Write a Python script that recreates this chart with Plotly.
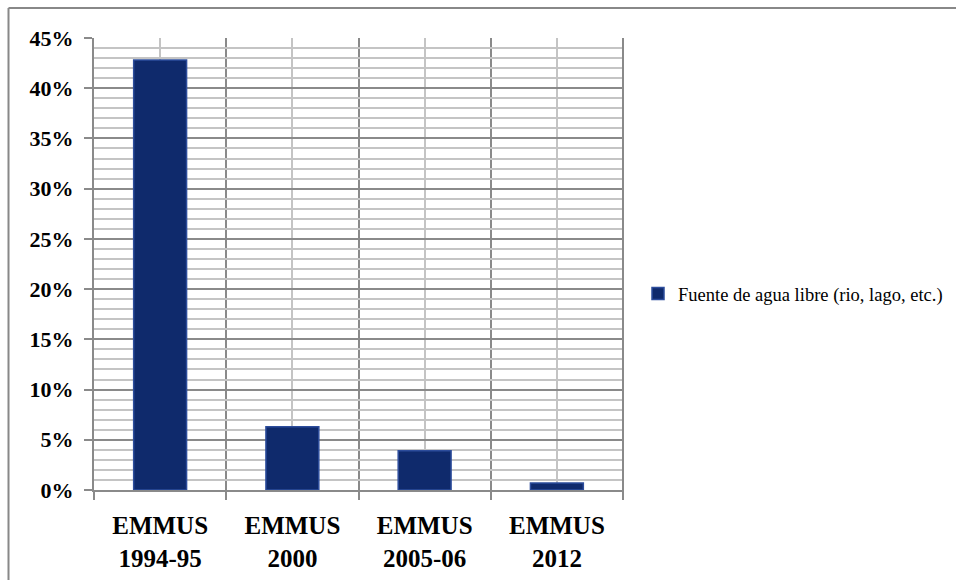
import plotly.graph_objects as go

# Survey rounds and share of households using open water sources
categories = ["EMMUS<br>1994-95", "EMMUS<br>2000", "EMMUS<br>2005-06", "EMMUS<br>2012"]
values = [42.8, 6.3, 3.9, 0.7]
series_name = "Fuente de agua libre (rio, lago, etc.)"

W, H = 956, 580
L, R, T, B = 94, 956 - 623, 38, 580 - 490
pw, ph = W - L - R, H - T - B

positions = list(range(len(categories)))

fig = go.Figure()
fig.add_trace(go.Bar(
    x=positions,
    y=values,
    name=series_name,
    width=0.4,
    marker=dict(color="#0f2a6c", line=dict(color="#2d4d9c", width=1.5)),
    showlegend=True,
))

serif = "Liberation Serif, Times New Roman, serif"

fig.update_layout(
    width=W, height=H,
    margin=dict(l=L, r=R, t=T, b=B, autoexpand=False),
    paper_bgcolor="white",
    plot_bgcolor="white",
    font=dict(family=serif, color="black"),
    showlegend=True,
    legend=dict(
        x=(638 - L) / pw, y=(490 - 294) / ph,
        xanchor="left", yanchor="middle",
        font=dict(family=serif, size=18.5, color="black"),
        bgcolor="rgba(0,0,0,0)",
        itemwidth=30,
    ),
    bargap=0.6,
)

fig.update_xaxes(
    range=[-0.5, len(categories) - 0.5],
    tickmode="array",
    tickvals=positions,
    ticktext=categories,
    tickfont=dict(family=serif, size=25, color="black", weight="bold"),
    ticks="",
    ticklabelstandoff=12,
    showgrid=True,
    gridcolor="#c4c4c4",
    gridwidth=1.5,
    showline=True,
    linecolor="#8a8a8a",
    linewidth=2,
    mirror=False,
    zeroline=False,
    minor=dict(
        tick0=0.5, dtick=1,
        showgrid=True, gridcolor="#8a8a8a", gridwidth=1.5,
        ticks="outside", ticklen=8, tickcolor="#8a8a8a", tickwidth=2,
    ),
)

fig.update_yaxes(
    range=[0, 45],
    tick0=0, dtick=5,
    ticksuffix="%",
    tickfont=dict(family=serif, size=22, color="black", weight="bold"),
    ticks="outside", ticklen=8, tickcolor="#8a8a8a", tickwidth=2,
    ticklabelstandoff=6,
    showgrid=True,
    gridcolor="#8a8a8a",
    gridwidth=1.5,
    showline=True,
    linecolor="#8a8a8a",
    linewidth=2,
    zeroline=False,
    minor=dict(dtick=1, showgrid=True, gridcolor="#c4c4c4", gridwidth=1.5),
)

# Right edge of the plotting frame, continuing as a tick below the axis
fig.add_shape(type="line", xref="paper", yref="paper",
              x0=1, x1=1, y0=1, y1=-8 / ph,
              line=dict(color="#8a8a8a", width=2))

# Outer chart border (top and left edges)
fig.add_shape(type="line", xref="paper", yref="paper",
              x0=(8.5 - L) / pw, x1=(W + 5 - L) / pw,
              y0=(490 - 8) / ph, y1=(490 - 8) / ph,
              line=dict(color="#888888", width=2))
fig.add_shape(type="line", xref="paper", yref="paper",
              x0=(8.5 - L) / pw, x1=(8.5 - L) / pw,
              y0=(490 - 8) / ph, y1=(490 - H - 5) / ph,
              line=dict(color="#888888", width=2))

fig.write_html("out.html")
